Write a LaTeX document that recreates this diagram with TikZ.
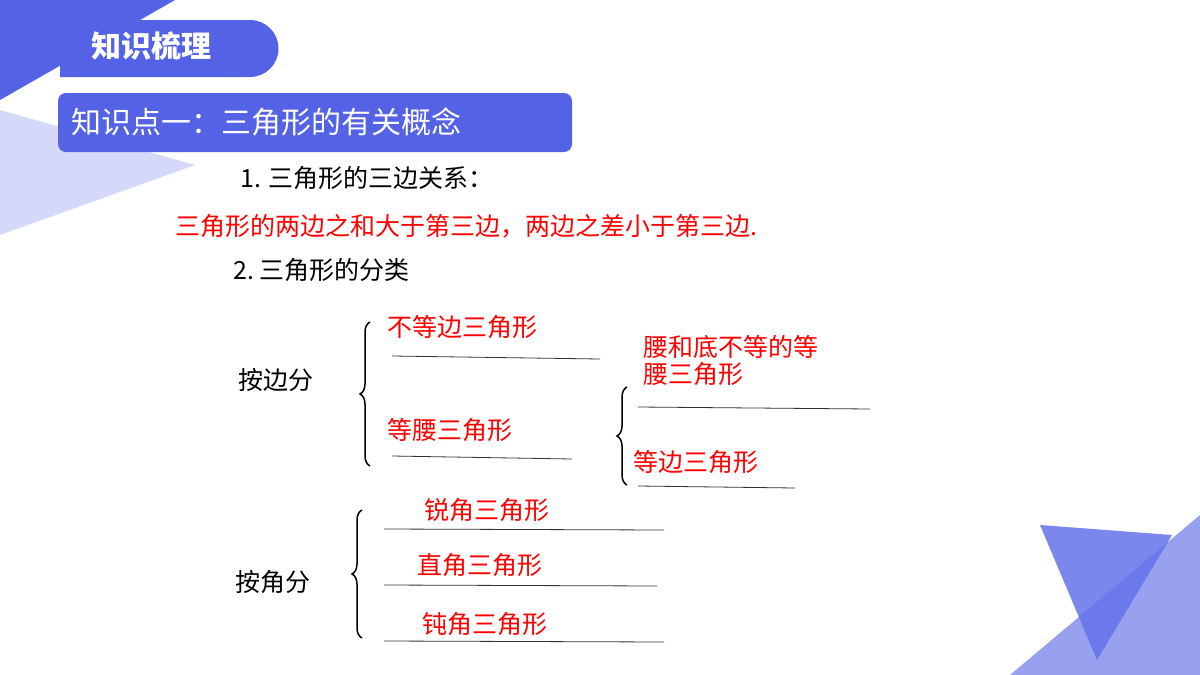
\documentclass[tikz,border=0pt]{standalone}
\usepackage{fontspec}
\setmainfont{Liberation Serif}
\newfontfamily\cjk{Noto Sans CJK SC}
\usetikzlibrary{decorations.pathreplacing}
\begin{document}
\begin{tikzpicture}[x=1pt,y=-1pt,
  blk/.style={anchor=west,font=\cjk\fontsize{25}{25}\selectfont,inner sep=0},
  red/.style={blk,text={rgb,255:red,255;green,0;blue,0}},
  ln/.style={line width=0.8pt,draw=black!80},
  br/.style={decorate,decoration={brace,amplitude=10pt,mirror},line width=1.5pt}]
\definecolor{mb}{RGB}{84,98,230}
\useasboundingbox (0,0) rectangle (1200,675);
\fill[white] (0,0) rectangle (1200,675);
% decorations
\fill[mb!25] (0,110) -- (195,165) -- (0,235) -- cycle;
\fill[mb] (0,0) -- (175,0) -- (0,100) -- cycle;
\fill[mb!60] (1010,675) -- (1200,515) -- (1200,675) -- cycle;
\fill[mb!90,opacity=0.85] (1040,525) -- (1172,535) -- (1097,660) -- cycle;
% header
\fill[mb] (60,20) -- (250,20) arc[start angle=-90,end angle=90,radius=28.5] -- (60,77) -- cycle;
\node[anchor=west,text=white,font=\cjk\bfseries\fontsize{30}{30}\selectfont] (h) at (88,46) {知识梳理};
\fill[mb,rounded corners=8pt] (58,93) rectangle (572,152);
\node[anchor=west,text=white,font=\cjk\fontsize{30}{30}\selectfont] (k) at (68,122) {知识点一：三角形的有关概念};
\node[blk] (t1) at (240,178) {1. 三角形的三边关系：};
\node[red] (t2) at (175,226) {三角形的两边之和大于第三边，两边之差小于第三边.};
\node[blk] (t3) at (233,270) {2.\ 三角形的分类};
% by side
\node[blk] (s) at (238,380) {按边分};
\draw[br] (370,322) -- (370,466);
\node[red] (s1) at (387,327) {不等边三角形};
\coordinate (l1a) at (392,356); \coordinate (l1b) at (600,359);
\draw[ln] (l1a) -- (l1b);
\node[red] (s2) at (387,430) {等腰三角形};
\coordinate (l2a) at (392,456); \coordinate (l2b) at (572,459);
\draw[ln] (l2a) -- (l2b);
\draw[br] (627,387) -- (627,485);
\node[red,align=left] (s3) at (643,361) {腰和底不等的等\\[2pt]腰三角形};
\coordinate (l3a) at (638,407); \coordinate (l3b) at (870,409);
\draw[ln] (l3a) -- (l3b);
\node[red] (s4) at (633,462) {等边三角形};
\coordinate (l4a) at (638,486); \coordinate (l4b) at (795,488);
\draw[ln] (l4a) -- (l4b);
% by angle
\node[blk] (a) at (235,582) {按角分};
\draw[br] (362,510) -- (362,638);
\node[red] (a1) at (424,510) {锐角三角形};
\coordinate (m1a) at (384,529); \coordinate (m1b) at (664,530);
\draw[ln] (m1a) -- (m1b);
\node[red] (a2) at (417,565) {直角三角形};
\coordinate (m2a) at (384,585); \coordinate (m2b) at (657,586);
\draw[ln] (m2a) -- (m2b);
\node[red] (a3) at (422,624) {钝角三角形};
\coordinate (m3a) at (384,641); \coordinate (m3b) at (664,642);
\draw[ln] (m3a) -- (m3b);
\end{tikzpicture}
\end{document}
